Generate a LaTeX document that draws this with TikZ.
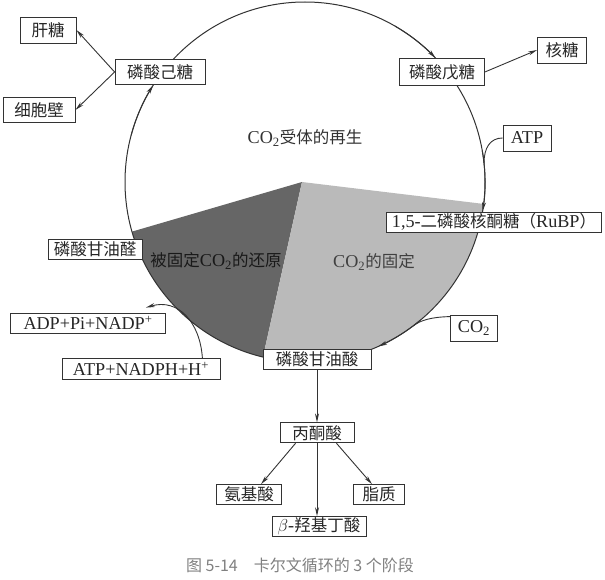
\documentclass[tikz,border=0pt]{standalone}
\usepackage{fontspec}
\setmainfont{Liberation Serif}[Scale=1.1]
\newfontfamily\cjk{Noto Sans CJK SC}
\usepackage{tikz}
\usetikzlibrary{positioning}
\usetikzlibrary{calc}
\usetikzlibrary{arrows.meta}

\newcommand{\hanzi}[1]{{\cjk #1}}

\tikzset{
	stage/.style={
		draw=black!80,
		fill=white,
		line width=0.8pt,
		inner sep=1pt,
		text=black!85,
		font=\fontsize{16.5}{19}\selectfont
	},
	flow/.style={draw=black!80, line width=0.9pt, -{Stealth[length=9pt,width=4pt]}},
	feed/.style={draw=black!80, line width=0.9pt},
	ring/.style={draw=black!80, line width=1pt},
	phase/.style={font=\fontsize{16.5}{19}\selectfont}
}

\begin{document}
\begin{tikzpicture}[x=1pt, y=-1pt]
\useasboundingbox (0,0) rectangle (605,580);

\coordinate (ctr) at (305,182);
\coordinate (apex) at (302,182);

% the three phases
\fill[black!60] (apex) -- ($(ctr)+(164:180)$)
	arc[start angle=164, end angle=103.5, radius=180] -- cycle;
\fill[black!27] (apex) -- ($(ctr)+(103.5:180)$)
	arc[start angle=103.5, end angle=7, radius=180] -- cycle;

\draw[ring] (ctr) circle[radius=180];

\node[phase, text=black!80] (regen) at (305,138) {CO\textsubscript{2}\hanzi{受体的再生}};
\node[phase, text=black!90] (reduce) at (216,261) {\hanzi{被固定}CO\textsubscript{2}\hanzi{的还原}};
\node[phase, text=black!75] (fix) at (374,262) {CO\textsubscript{2}\hanzi{的固定}};

% ---

\node[stage, minimum width=56pt, minimum height=26pt] (gantang) at (48,30) {\hanzi{肝糖}};
\node[stage, minimum width=72pt, minimum height=25pt] (xibaobi) at (39,110) {\hanzi{细胞壁}};
\node[stage, minimum width=90pt, minimum height=25pt] (jitang) at (160,72) {\hanzi{磷酸己糖}};
\node[stage, minimum width=85pt, minimum height=27pt] (wutang) at (442,72) {\hanzi{磷酸戊糖}};
\node[stage, minimum width=49pt, minimum height=26pt] (hetang) at (562,50) {\hanzi{核糖}};
\node[stage, minimum width=48pt, minimum height=26pt] (atp) at (527,138) {ATP};
\node[stage, minimum width=215pt, minimum height=20pt] (rubp) at (494,222)
	{1,5-\hanzi{二磷酸核酮糖（}RuBP\hanzi{）}};
\node[stage, minimum width=94pt, minimum height=20pt] (ganyouquan) at (95,249) {\hanzi{磷酸甘油醛}};
\node[stage, minimum width=155pt, minimum height=20pt] (adp) at (88,323) {ADP+Pi+NADP\textsuperscript{+}};
\node[stage, minimum width=158pt, minimum height=21pt] (atpnadph) at (141,369) {ATP+NADPH+H\textsuperscript{+}};
\node[stage, minimum width=47pt, minimum height=26pt] (co2) at (474,328) {CO\textsubscript{2}};
\node[stage, minimum width=108pt, minimum height=20pt] (ganyousuan) at (317,359) {\hanzi{磷酸甘油酸}};

\node[stage, minimum width=74pt, minimum height=20pt, below=53pt of ganyousuan] (bingtong) {\hanzi{丙酮酸}};
\node[stage, minimum width=65pt, minimum height=20pt, below=41pt of bingtong, xshift=-68pt] (anjisuan) {\hanzi{氨基酸}};
\node[stage, minimum width=51pt, minimum height=20pt, below=41pt of bingtong, xshift=62pt] (zhizhi) {\hanzi{脂质}};
\node[stage, minimum width=94pt, minimum height=20pt, below=73pt of bingtong, xshift=2pt] (beta) {$\beta$-\hanzi{羟基丁酸}};

% --- arrows round the cycle

\draw[flow] ($(ctr)+(300:180)$) arc[start angle=300, end angle=316.5, radius=180];
\draw[flow] ($(ctr)+(350:180)$) arc[start angle=350, end angle=369.3, radius=180];
\draw[flow] ($(ctr)+(50:180)$) arc[start angle=50, end angle=66, radius=180];
\draw[flow] ($(ctr)+(195:180)$) arc[start angle=195, end angle=212.5, radius=180];

% --- what joins and leaves

\coordinate (atpjoin) at ($(ctr)+(-6:180)$);
\coordinate (co2join) at ($(ctr)+(53:180)$);
\coordinate (adptip) at ([xshift=-20pt, yshift=5pt]adp.north east);

\draw[feed] (atp.west) .. controls (490,138) and (484,148) .. (atpjoin);
\draw[feed] ([yshift=-2pt]co2.north west) .. controls (432,317) and (421,320) .. (co2join);
\draw[flow] ([xshift=-18pt]atpnadph.north east) .. controls (200,322) and (178,298) .. (adptip);

% ---

\draw[flow] (jitang.west) -- (gantang.east);
\draw[flow] (jitang.west) -- (xibaobi.east);
\draw[flow] (wutang.east) -- (hetang.west);

\draw[flow] (ganyousuan.south) -- (bingtong.north);
\draw[flow] ([xshift=16pt]bingtong.south west) -- ([xshift=12pt]anjisuan.north);
\draw[flow] ([xshift=-18pt]bingtong.south east) -- ([xshift=-7pt]zhizhi.north);
\draw[flow] (bingtong.south) -- (bingtong.south |- beta.north);

\node[font=\cjk\fontsize{16}{18}\selectfont, text=black!50] (caption) at (300,565)
	{图 5-14\quad 卡尔文循环的 3 个阶段};

\end{tikzpicture}
\end{document}
